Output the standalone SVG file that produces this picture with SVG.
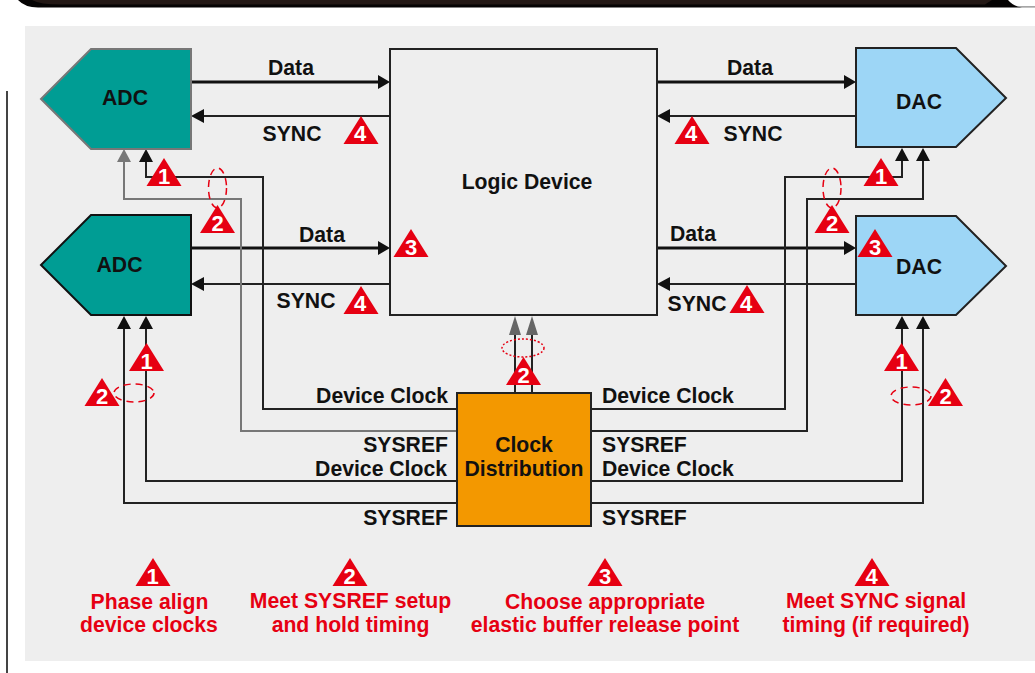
<svg xmlns="http://www.w3.org/2000/svg" width="1035" height="673" viewBox="0 0 1035 673">
<style>
text{font-family:"Liberation Sans",Arial,sans-serif;font-weight:700;font-size:21.200px;fill:#111}
.m{text-anchor:middle}.e{text-anchor:end}
.r text,text.r{fill:#e60012}
.n{font-size:22px;fill:#fff;text-anchor:middle}
.c{fill:none;stroke:#222;stroke-width:2}
.g{fill:none;stroke:#777;stroke-width:2}
.d{fill:none;stroke:#111;stroke-width:3}
.t{fill:#e60012}
.el{fill:none;stroke:#e60012;stroke-width:1.5;stroke-dasharray:7 5}
.dot{fill:none;stroke:#e60012;stroke-width:1.5;stroke-dasharray:2 2}
</style>
<defs>
<path id="tri" class="t" d="M0 0L17.500 28H-17.500Z"/>
</defs>
<rect width="1035" height="673" fill="#fff"/>
<path d="M18 0Q25 7.500 38 7.500H1022Q1013 6 1008 0Z" fill="#050303"/>
<path d="M32 0Q40 4.500 60 4.500H985L992 0Z" fill="#231815"/>
<path d="M1016 6.200H1035V7.500H1020Z" fill="#888"/>
<line x1="7" y1="91" x2="7" y2="673" stroke="#444" stroke-width="2"/>
<rect x="25" y="26" width="1010" height="635" fill="#eee"/>
<g id="connectors">
<path class="d" d="M191 82H380M657 82H846M191 248H380M657 248H846"/>
<path class="c" d="M390 116H200M856 116H667M390 284H200M856 284H667"/>
<path class="c" d="M457 409H263V177H146V160M591 409H785V177H902V160"/>
<path class="g" d="M457 431H241V199H124V160"/>
<path class="c" d="M591 431H807V199H923V160"/>
<path class="c" d="M457 481H146V327M457 503H124V327M591 481H902V327M591 503H923V327"/>
<path class="c" d="M515 393V335M532 393V335"/>
<path fill="#111" d="M390 82L378 75V89ZM856 82L844 75V89ZM390 248L378 241V255ZM856 248L844 241V255ZM191 116L204 109V123ZM657 116L670 109V123ZM191 284L204 277V291ZM657 284L670 277V291ZM146 149L139 162H153ZM902 148L895 161H909ZM923 148L916 161H930ZM124 316L117 329H131ZM146 316L139 329H153ZM902 316L895 329H909ZM923 316L916 329H930Z"/>
<path fill="#777" d="M124 149L117 162H131Z"/>
<path fill="#666" d="M515 316L509 335H521ZM532 316L526 335H538Z"/>
</g>
<g id="adc1"><path d="M41 99L91 49H191V149H91Z" fill="#009d94" stroke="#777" stroke-width="2"/><text class="m" x="125" y="105">ADC</text></g>
<g id="adc2"><path d="M41 265L91 215H191V315H91Z" fill="#009d94" stroke="#111" stroke-width="2"/><text class="m" x="119.500" y="272">ADC</text></g>
<g id="logic"><rect x="390" y="49" width="267" height="266" fill="#eee" stroke="#222" stroke-width="2"/><text class="m" x="527" y="189">Logic Device</text></g>
<g id="dac1"><path d="M856 48H956L1006 98L956 147H856Z" fill="#9dd6f6" stroke="#222" stroke-width="2"/><text class="m" x="919" y="109">DAC</text></g>
<g id="dac2"><path d="M856 216H956L1006 266L956 315H856Z" fill="#9dd6f6" stroke="#222" stroke-width="2"/><text class="m" x="919" y="274">DAC</text></g>
<g id="clock"><rect x="457" y="393" width="134" height="133" fill="#f39800" stroke="#222" stroke-width="2"/><text class="m" x="524" y="452">Clock</text><text class="m" x="524" y="476">Distribution</text></g>
<g id="labels">
<text class="m" x="291" y="75">Data</text><text class="m" x="322" y="242">Data</text><text class="m" x="750" y="75">Data</text><text class="m" x="693" y="241">Data</text>
<text class="m" x="292" y="141">SYNC</text><text class="m" x="306" y="308">SYNC</text><text class="m" x="753" y="141">SYNC</text><text class="m" x="697" y="311">SYNC</text>
<text class="e" x="448" y="403">Device Clock</text><text class="e" x="448" y="452">SYSREF</text><text class="e" x="447" y="476">Device Clock</text><text class="e" x="448" y="525">SYSREF</text>
<text x="602" y="403">Device Clock</text><text x="602" y="452">SYSREF</text><text x="602" y="476">Device Clock</text><text x="602" y="525">SYSREF</text>
</g>
<g id="markers">
<ellipse class="el" cx="217.500" cy="188" rx="9" ry="20"/><ellipse class="el" cx="832" cy="188" rx="9" ry="20"/><ellipse class="dot" cx="523" cy="348" rx="21" ry="9"/><ellipse class="el" cx="134" cy="393" rx="20" ry="9"/><ellipse class="el" cx="911" cy="396" rx="20" ry="9"/>
<use href="#tri" x="164" y="158"/><text class="n" x="164" y="184">1</text>
<use href="#tri" x="217.500" y="205"/><text class="n" x="217.500" y="231">2</text>
<use href="#tri" x="361" y="116"/><text class="n" x="360" y="141">4</text>
<use href="#tri" x="361" y="286"/><text class="n" x="360" y="311">4</text>
<use href="#tri" x="411" y="229"/><text class="n" x="411" y="255">3</text>
<use href="#tri" x="881" y="158"/><text class="n" x="881" y="184">1</text>
<use href="#tri" x="832" y="205"/><text class="n" x="832" y="231">2</text>
<use href="#tri" x="875" y="229"/><text class="n" x="875" y="255">3</text>
<use href="#tri" x="692" y="116"/><text class="n" x="691" y="141">4</text>
<use href="#tri" x="747" y="285"/><text class="n" x="746" y="311">4</text>
<use href="#tri" x="523.500" y="357"/><text class="n" x="523.500" y="383">2</text>
<use href="#tri" x="146.500" y="343"/><text class="n" x="146.500" y="369">1</text>
<use href="#tri" x="102" y="378"/><text class="n" x="102" y="404">2</text>
<use href="#tri" x="901.500" y="343"/><text class="n" x="901.500" y="369">1</text>
<use href="#tri" x="945.500" y="378"/><text class="n" x="945.500" y="404">2</text>
</g>
<g id="legend" class="r">
<use href="#tri" x="153" y="558"/><text class="n" x="152.500" y="584" style="fill:#fff">1</text>
<use href="#tri" x="350" y="558"/><text class="n" x="349.500" y="584" style="fill:#fff">2</text>
<use href="#tri" x="605" y="558"/><text class="n" x="605" y="584" style="fill:#fff">3</text>
<use href="#tri" x="872" y="558"/><text class="n" x="871.500" y="584" style="fill:#fff">4</text>
<text class="m" x="149.500" y="609">Phase align</text><text class="m" x="149" y="632">device clocks</text>
<text class="m" x="350.500" y="608">Meet SYSREF setup</text><text class="m" x="350.500" y="632">and hold timing</text>
<text class="m" x="605" y="609">Choose appropriate</text><text class="m" x="605" y="632">elastic buffer release point</text>
<text class="m" x="876" y="608">Meet SYNC signal</text><text class="m" x="876" y="632">timing (if required)</text>
</g>
</svg>
